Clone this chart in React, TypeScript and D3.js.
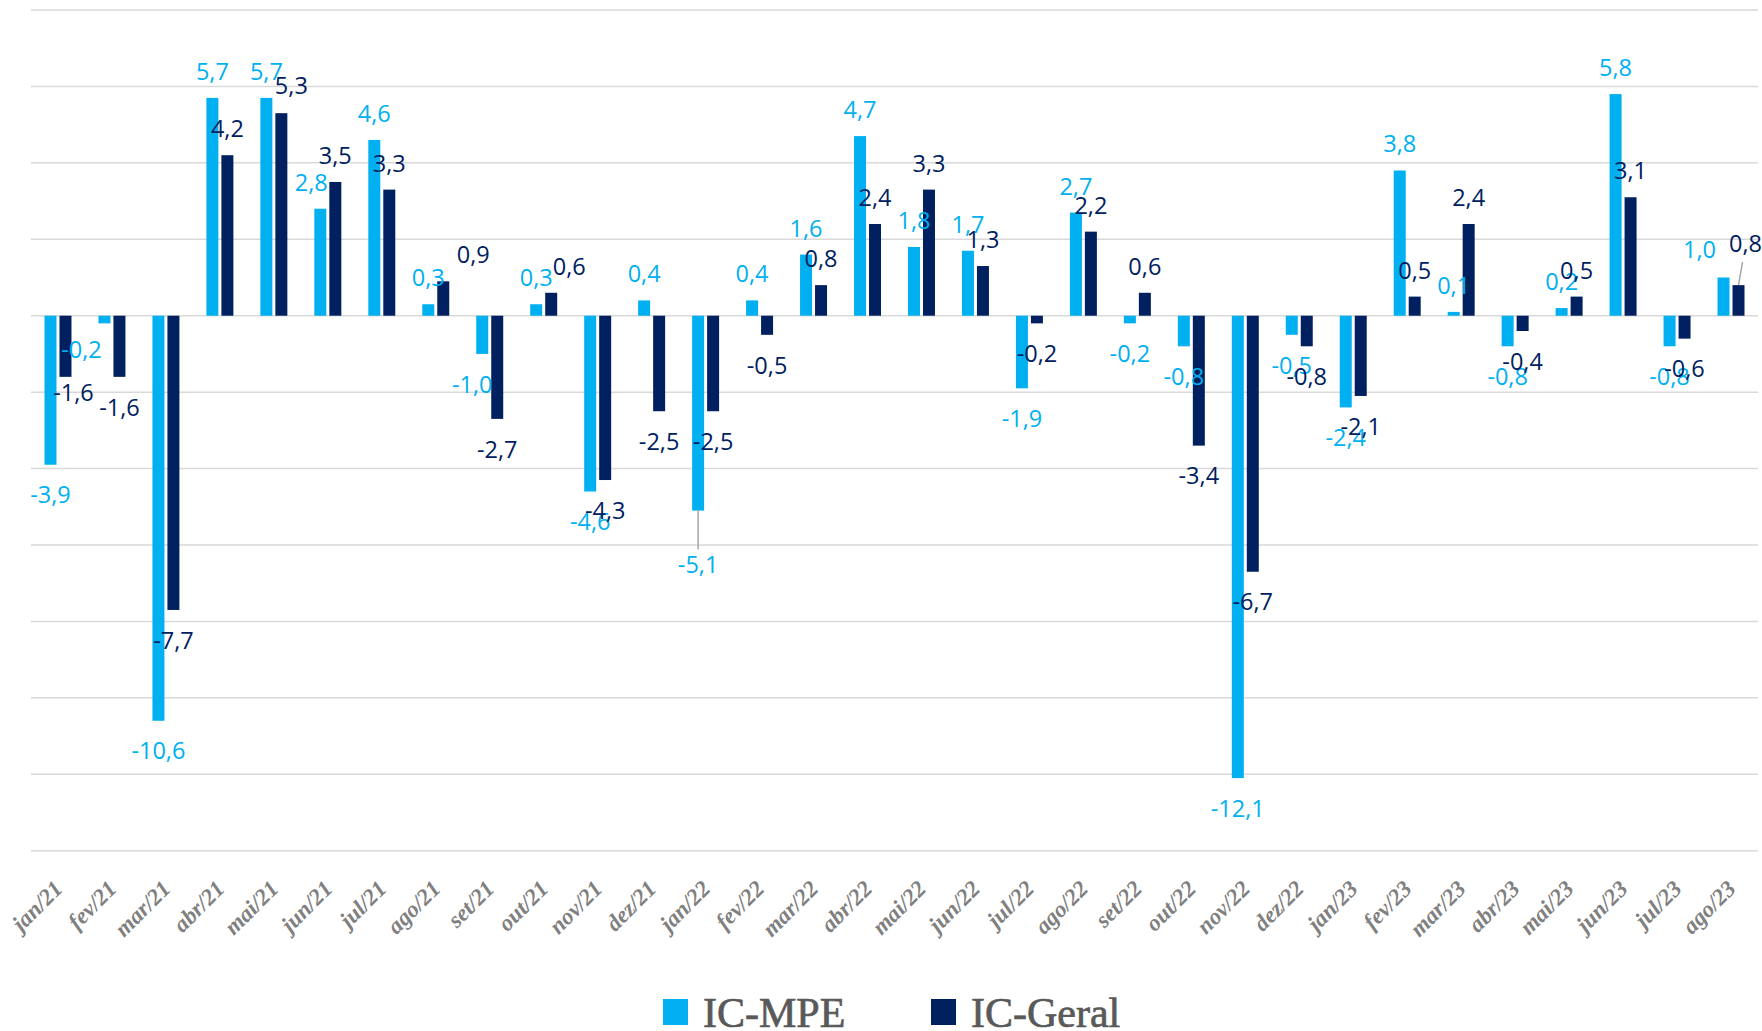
import React from 'react';
import * as d3 from 'd3';

const months = [
  'jan/21', 'fev/21', 'mar/21', 'abr/21', 'mai/21', 'jun/21', 'jul/21', 'ago/21',
  'set/21', 'out/21', 'nov/21', 'dez/21', 'jan/22', 'fev/22', 'mar/22', 'abr/22',
  'mai/22', 'jun/22', 'jul/22', 'ago/22', 'set/22', 'out/22', 'nov/22', 'dez/22',
  'jan/23', 'fev/23', 'mar/23', 'abr/23', 'mai/23', 'jun/23', 'jul/23', 'ago/23',
];

const icMpe = [
  -3.9, -0.2, -10.6, 5.7, 5.7, 2.8, 4.6, 0.3, -1.0, 0.3, -4.6, 0.4, -5.1, 0.4, 1.6, 4.7,
  1.8, 1.7, -1.9, 2.7, -0.2, -0.8, -12.1, -0.5, -2.4, 3.8, 0.1, -0.8, 0.2, 5.8, -0.8, 1.0,
];

const icGeral = [
  -1.6, -1.6, -7.7, 4.2, 5.3, 3.5, 3.3, 0.9, -2.7, 0.6, -4.3, -2.5, -2.5, -0.5, 0.8, 2.4,
  3.3, 1.3, -0.2, 2.2, 0.6, -3.4, -6.7, -0.8, -2.1, 0.5, 2.4, -0.4, 0.5, 3.1, -0.6, 0.8,
];

const yTicks = d3.range(-14, 9, 2);

const series = [
  { key: 'IC-MPE', values: icMpe, color: '#00B0F0' },
  { key: 'IC-Geral', values: icGeral, color: '#002060' },
];

// labels dragged by hand in the original sheet
const labelNudge: Record<string, { dx: number; dy: number; leader?: boolean }> = {
  'IC-Geral-0': { dx: 8, dy: -15 },
  'IC-MPE-1': { dx: -23, dy: -4 },
  'IC-Geral-4': { dx: 10, dy: -1 },
  'IC-MPE-5': { dx: -9, dy: 0 },
  'IC-Geral-7': { dx: 30, dy: 0 },
  'IC-MPE-8': { dx: -10, dy: 0 },
  'IC-Geral-9': { dx: 18, dy: 0 },
  'IC-MPE-12': { dx: 0, dy: 24, leader: true },
  'IC-MPE-31': { dx: -24, dy: -1 },
  'IC-Geral-31': { dx: 7, dy: -15, leader: true },
};

const fmt = (v: number) => v.toFixed(1).replace('.', ',');

const W = 1762;
const H = 1031;

export default function App() {
  const left = 31;
  const right = 1758;

  const x0 = d3.scaleBand().domain(months).range([left, right]).paddingInner(0.5).paddingOuter(0.25);
  const x1 = d3.scaleBand().domain(series.map(s => s.key)).range([0, x0.bandwidth()]).paddingInner(0.2);
  const y = d3.scaleLinear().domain([-14, 8]).range([850.7, 10]);

  const labelFont = '"Open Sans", Lato, sans-serif';

  return (
    <svg width={W} height={H} style={{ position: 'absolute', left: 0, top: 0, background: '#fff' }}>
      {/* grid */}
      <g>
        {yTicks.map(t => (
          <line key={t} x1={left} x2={right} y1={y(t)} y2={y(t)} stroke="#d9d9d9" strokeWidth={1.5} />
        ))}
      </g>

      {/* bars */}
      {series.map(s => (
        <g key={s.key} fill={s.color}>
          {s.values.map((v, i) => {
            const bx = (x0(months[i]) as number) + (x1(s.key) as number);
            return (
              <rect
                key={i}
                x={bx}
                width={x1.bandwidth()}
                y={Math.min(y(v), y(0))}
                height={Math.abs(y(v) - y(0))}
              />
            );
          })}
        </g>
      ))}

      {/* data labels */}
      {series.map(s => (
        <g key={s.key + '-lbl'} fill={s.color} fontFamily={labelFont} fontSize={23.5} textAnchor="middle">
          {s.values.map((v, i) => {
            const cx = (x0(months[i]) as number) + (x1(s.key) as number) + x1.bandwidth() / 2;
            const base = v >= 0 ? y(v) - 18 : y(v) + 38.7;
            const n = labelNudge[`${s.key}-${i}`] || { dx: 0, dy: 0 };
            const tx = cx + n.dx;
            const ty = base + n.dy;
            let leader = null;
            if (n.leader) {
              leader = v >= 0
                ? <line x1={cx} y1={y(v)} x2={tx - 3} y2={ty + 10} stroke="#a6a6a6" strokeWidth={1.5} />
                : <line x1={cx} y1={y(v)} x2={tx} y2={ty - 24} stroke="#a6a6a6" strokeWidth={1.5} />;
            }
            return (
              <g key={i}>
                {leader}
                <text x={tx} y={ty}>{fmt(v)}</text>
              </g>
            );
          })}
        </g>
      ))}

      {/* x axis labels */}
      <g fill="#808080" fontFamily='"Liberation Serif", "DejaVu Serif", serif' fontStyle="italic" fontWeight="bold" fontSize={23} textAnchor="end">
        {months.map(m => {
          const cx = (x0(m) as number) + x0.bandwidth() / 2 + 6;
          const cy = 890;
          return (
            <text key={m} transform={`translate(${cx},${cy}) rotate(-45)`}>{m}</text>
          );
        })}
      </g>

      {/* legend */}
      <g fontFamily='"Liberation Serif", "Times New Roman", serif' fontSize={42} fill="#595959" stroke="#595959" strokeWidth={0.7}>
        {series.map((s, i) => {
          const lx = i === 0 ? 663 : 931;
          return (
            <g key={s.key}>
              <rect x={lx} y={999} width={25} height={26} fill={s.color} stroke="none" />
              <text x={lx + 40} y={1027}>{s.key}</text>
            </g>
          );
        })}
      </g>
    </svg>
  );
}
